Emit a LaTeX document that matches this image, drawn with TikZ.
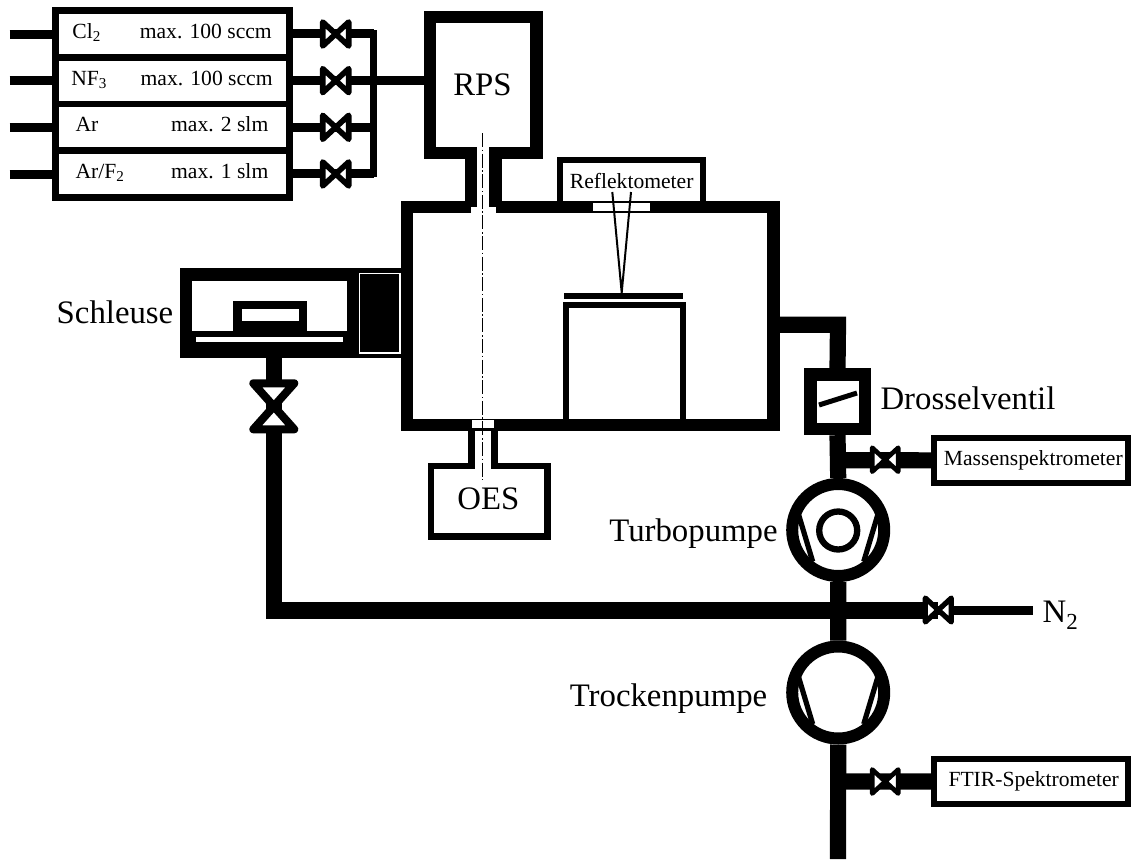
\documentclass[tikz,border=0pt]{standalone}
\usepackage{fontspec}
\setmainfont{Liberation Serif}
\tikzset{
  smalltext/.style={anchor=base, inner sep=0, font=\fontsize{21.6}{24}\selectfont},
  bigtext/.style={anchor=base, inner sep=0, font=\fontsize{32.8}{36}\selectfont},
  mfc/.style={draw, fill=white, line width=6.5, minimum width=234pt, minimum height=46.65pt, inner sep=0},
  spec/.style={draw, fill=white, line width=6, minimum width=194pt, minimum height=45.5pt, inner sep=0},
  pump/.style={circle, draw, fill=white, line width=12, minimum size=92pt, inner sep=0},
  wall/.style={line width=12.5, line join=miter},
  pipe/.style={line width=16.2},
  gasline/.style={line width=9},
  valvebox/.style={inner sep=0, outer sep=0, minimum width=26pt, minimum height=24pt}
}
\newcommand\valve[4]{\node[valvebox] (#1) at (#2,#3) {};
  \filldraw[fill=white, line width=#4, line join=round] (#1.north west) -- (#1.south east) -- (#1.north east) -- (#1.south west) -- cycle;}
\newcommand\pumpblades[2]{\begin{scope}[shift={(#1,#2)}]
  \draw[line width=5.2] (-39.6,-15.4) -- (-25.5,31.6) (39.6,-15.4) -- (25.5,31.6);\end{scope}}

\begin{document}
\begin{tikzpicture}[x=1pt,y=-1pt]
\useasboundingbox (0,0) rectangle (1131,859);
% gas boxes
\node[mfc] (cl) at (172.5,34) {};
\node[mfc] (nf) at (172.5,80.65) {};
\node[mfc] (ar) at (172.5,127.3) {};
\node[mfc] (arf) at (172.5,173.95) {};
\node[smalltext] (cltext) at (86.6,38.3) {Cl\textsubscript{2}};
\node[smalltext] (nftext) at (89.2,85) {NF\textsubscript{3}};
\node[smalltext] (artext) at (87,131.7) {Ar};
\node[smalltext] (arftext) at (100,178.3) {Ar/F\textsubscript{2}};
\node[smalltext] (clmax) at (205.8,38.3) {max. 100 sccm};
\node[smalltext] (nfmax) at (206.6,85) {max. 100 sccm};
\node[smalltext] (armax) at (219.7,131.7) {max. 2 slm};
\node[smalltext] (arfmax) at (219.7,178.3) {max. 1 slm};
\coordinate (inlcl) at (9.5,34.4);
\coordinate (inlnf) at (9.5,80.65);
\coordinate (inlar) at (9.5,127.5);
\coordinate (inlarf) at (9.5,174.4);
\coordinate (bustop) at (373.6,34);
\coordinate (busnf) at (373.6,80.65);
\coordinate (busar) at (373.6,127.3);
\coordinate (busbot) at (373.6,173.95);
\coordinate (rpsport) at (424,80.65);
\draw[gasline] (inlcl) -- (cl.west |- inlcl) (inlnf) -- (nf.west) (inlar) -- (ar.west |- inlar) (inlarf) -- (arf.west |- inlarf);
\draw[gasline] (cl.east) -- (bustop) (nf.east) -- (rpsport) (ar.east) -- (busar) (arf.east) -- (busbot);
\draw[line width=7, line cap=rect] (bustop) -- (busbot);
\valve{vcl}{335.7}{34}{5.6}
\valve{vnf}{335.7}{80.65}{5.6}
\valve{var}{335.7}{127.3}{5.6}
\valve{varf}{335.7}{173.95}{5.6}
% RPS and chamber
\draw[wall] (471,206.8) -- (471,153) -- (430.2,153) -- (430.2,17.2) -- (536.5,17.2) -- (536.5,153) -- (495.6,153) -- (495.6,206.8);
\draw[wall] (471,206.8) -- (407,206.8) -- (407,425) -- (773.3,425) -- (773.3,206.8) -- (495.6,206.8);
\node[bigtext] (rps) at (482.5,95) {RPS};
% Reflektometer
\draw[line width=6, line join=miter] (559.7,201) -- (559.7,160.3) -- (702.7,160.3) -- (702.7,201);
\fill[white] (593.3,203.3) rectangle (650,210.7);
\node[smalltext] (refl) at (631.7,188.3) {Reflektometer};
\coordinate (beamapex) at (621.7,292.7);
\draw[line width=2] (612.3,192) -- (beamapex) -- (631,192);
\fill (564,292.7) rectangle (683.3,299);
\draw[line width=6.5, line join=miter] (566,419) -- (566,305) -- (683,305) -- (683,419);
% OES
\fill[white] (472,420) rectangle (494,427.7);
\draw[line width=6.5, line join=miter] (471.6,431) -- (471.6,466) -- (431,466) -- (431,536.3) -- (547.6,536.3) -- (547.6,466) -- (494.3,466) -- (494.3,431);
\node[bigtext] (oes) at (488.3,509) {OES};
% Schleuse
\fill (180,268.3) rectangle (401,358.3);
\fill[white] (192.3,280.7) rectangle (346.7,330.7);
\fill[white] (196.3,337.3) rectangle (342.7,342);
\fill (233.3,301) rectangle (307,331);
\fill[white] (242,309.3) rectangle (298.7,320.7);
\draw[white, line width=1.3] (359.8,273.8) rectangle (400,353);
\node[bigtext] (schleuse) at (115,323) {Schleuse};
% pumps and valves
\node[draw, fill=white, line width=12.5, minimum width=54.5pt, minimum height=54.5pt, inner sep=0] (drossel) at (837.5,401.7) {};
\draw[line width=5] (819,405) -- (857,393);
\node[bigtext] (drosseltext) at (968,409.3) {Drosselventil};
\node[pump] (turbo) at (838.2,530) {};
\pumpblades{838.2}{530}
\draw[line width=6.3] (838.2,530.5) circle (19);
\node[bigtext] (turbotext) at (693.5,541) {Turbopumpe};
\node[pump] (trocken) at (838.2,692.5) {};
\pumpblades{838.2}{692.5}
\node[bigtext] (trockentext) at (668.5,706) {Trockenpumpe};
\node[spec] (masse) at (1031,460.35) {};
\node[smalltext] (massetext) at (1033.3,465) {Massenspektrometer};
\node[spec] (ftir) at (1031,781.5) {};
\node[smalltext] (ftirtext) at (1033.7,786.7) {FTIR-Spektrometer};
\coordinate (chamberport) at (780,324.7);
\coordinate (forepipe) at (838,324.7);
\coordinate (mschleuse) at (274,358.3);
\coordinate (corner) at (274,610.5);
\coordinate (crossing) at (838,610.5);
\coordinate (exhaust) at (838,859);
\coordinate (teemasse) at (838,460.3);
\coordinate (teeftir) at (838,781.5);
\coordinate (nout) at (1032.7,610.5);
\draw[pipe, line join=miter] (chamberport) -- (forepipe) -- (drossel.north);
\draw[pipe] (drossel.south) -- (turbo.north) (turbo.south) -- (trocken.north) (trocken.south) -- (exhaust);
\draw[pipe] (teemasse) -- (masse.west) (teeftir) -- (ftir.west);
\draw[pipe, line join=miter] (mschleuse) -- (corner) -- (crossing) -- (938,610.5);
\draw[gasline] (938,610.5) -- (nout);
\valve{vmasse}{885.2}{459.7}{4.6}
\valve{vftir}{885.2}{781.5}{4.6}
\valve{vnitro}{938.3}{610}{5.2}
\node[bigtext, anchor=base west] (ntext) at (1042.5,622.7) {N\textsubscript{2}};
% load lock valve
\node[inner sep=0, outer sep=0, minimum width=41pt, minimum height=46pt] (vlock) at (273.8,406.3) {};
\filldraw[fill=white, line width=8, line join=round] (vlock.north west) -- (vlock.north east) -- (vlock.south west) -- (vlock.south east) -- cycle;
% optical axis
\draw[line width=1.4, dash pattern=on 14pt off 2.6pt on 1.5pt off 2.5pt] (482.5,133) -- (482.5,480);
\end{tikzpicture}
\end{document}
